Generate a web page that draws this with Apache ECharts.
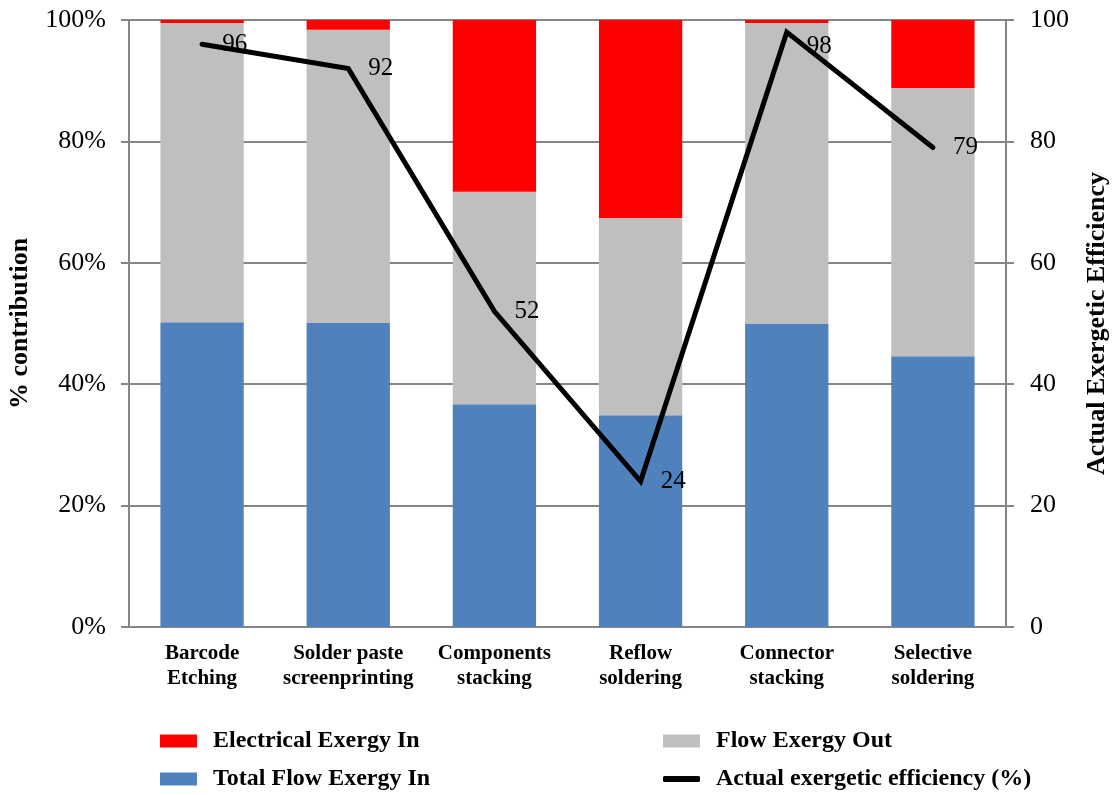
<!DOCTYPE html>
<html>
<head>
<meta charset="utf-8">
<script src="https://cdn.jsdelivr.net/npm/echarts@6/dist/echarts.min.js"></script>
<style>
  html, body { margin: 0; padding: 0; background: #fff; }
  #chart { width: 1116px; height: 795px; }
</style>
</head>
<body>
<div id="chart"></div>
<script>
// Process steps along the line
const categories = [
  'Barcode\nEtching',
  'Solder paste\nscreenprinting',
  'Components\nstacking',
  'Reflow\nsoldering',
  'Connector\nstacking',
  'Selective\nsoldering'
];

// Share of each exergy flow (% of the stacked total)
const totalFlowExergyIn = [50.2, 50.1, 36.7, 34.9, 49.9, 44.6];
const flowExergyOut     = [49.3, 48.3, 35.0, 32.5, 49.6, 44.2];
const electricalExergyIn = [0.5, 1.6, 28.3, 32.6, 0.5, 11.2];

// Actual exergetic efficiency (%) per step
const efficiency = [96, 92, 52, 24, 98, 79];

const leftTicks = [0, 20, 40, 60, 80, 100];
const rightTicks = [0, 20, 40, 60, 80, 100];

const serif = '"Liberation Serif", "Times New Roman", serif';

const chart = echarts.init(document.getElementById('chart'), null, { renderer: 'canvas' });

const legendText = {
  fontFamily: serif, fontWeight: 'bold', fontSize: 24, color: '#000',
  padding: [0, 0, 0, 11]
};

function legendAt(name, left, top, extra) {
  return Object.assign({
    data: [name], left: left, top: top, padding: 0,
    itemWidth: 37, itemHeight: 13, icon: 'rect', itemGap: 0, textStyle: legendText
  }, extra || {});
}

// The label near the top edge sits a little lower so it stays inside the plot
const efficiencyPoints = efficiency.map(function (v) {
  return v > 97 ? { value: v, label: { offset: [0, 14] } } : v;
});

chart.setOption({
  animation: false,
  backgroundColor: '#fff',
  grid: { left: 129, right: 110, top: 20, bottom: 168, containLabel: false, outerBoundsMode: 'none' },
  legend: [
    legendAt('Electrical Exergy In', 160, 729),
    legendAt('Flow Exergy Out', 663, 729),
    legendAt('Total Flow Exergy In', 160, 767),
    legendAt({ name: 'Actual exergetic efficiency (%)', icon: 'roundRect' }, 663, 767, { itemHeight: 6 })
  ],
  xAxis: {
    type: 'category',
    data: categories,
    axisLine: { show: true, lineStyle: { color: '#868686', width: 2 } },
    axisTick: { show: false },
    axisLabel: {
      fontFamily: serif, fontWeight: 'bold', fontSize: 21, color: '#000',
      lineHeight: 25, margin: 14, interval: 0
    }
  },
  yAxis: [
    {
      type: 'value', min: leftTicks[0], max: leftTicks[leftTicks.length - 1], interval: 20,
      name: '% contribution', nameLocation: 'middle', nameGap: 96, nameRotate: 90,
      nameTextStyle: { fontFamily: serif, fontWeight: 'bold', fontSize: 26, color: '#000' },
      axisLine: { show: true, lineStyle: { color: '#868686', width: 2 } },
      axisTick: { show: true, length: 8, inside: false, lineStyle: { color: '#868686', width: 2 } },
      axisLabel: { formatter: '{value}%', fontFamily: serif, fontSize: 26, color: '#000', margin: 23 },
      splitLine: { show: true, lineStyle: { color: '#868686', width: 2 } }
    },
    {
      type: 'value', min: rightTicks[0], max: rightTicks[rightTicks.length - 1], interval: 20,
      name: 'Actual Exergetic Efficiency', nameLocation: 'middle', nameGap: 78, nameRotate: 90,
      nameTextStyle: { fontFamily: serif, fontWeight: 'bold', fontSize: 26, color: '#000' },
      axisLine: { show: true, lineStyle: { color: '#868686', width: 2 } },
      axisTick: { show: true, length: 8, lineStyle: { color: '#868686', width: 2 } },
      axisLabel: { fontFamily: serif, fontSize: 26, color: '#000', margin: 24 },
      splitLine: { show: false }
    }
  ],
  series: [
    {
      name: 'Total Flow Exergy In', type: 'bar', stack: 'share', data: totalFlowExergyIn,
      barWidth: '57%', itemStyle: { color: '#4F81BD' }
    },
    {
      name: 'Flow Exergy Out', type: 'bar', stack: 'share', data: flowExergyOut,
      barWidth: '57%', itemStyle: { color: '#BFBFBF' }
    },
    {
      name: 'Electrical Exergy In', type: 'bar', stack: 'share', data: electricalExergyIn,
      barWidth: '57%', itemStyle: { color: '#FF0000' }
    },
    {
      name: 'Actual exergetic efficiency (%)', type: 'line', yAxisIndex: 1, data: efficiencyPoints,
      symbol: 'circle', symbolSize: 0.1, showSymbol: true,
      lineStyle: { color: '#000', width: 5, cap: 'round', join: 'miter' },
      itemStyle: { color: '#000' },
      label: {
        show: true, position: 'right', distance: 20,
        fontFamily: serif, fontSize: 25, color: '#000'
      },
      z: 5
    }
  ]
});
</script>
</body>
</html>
